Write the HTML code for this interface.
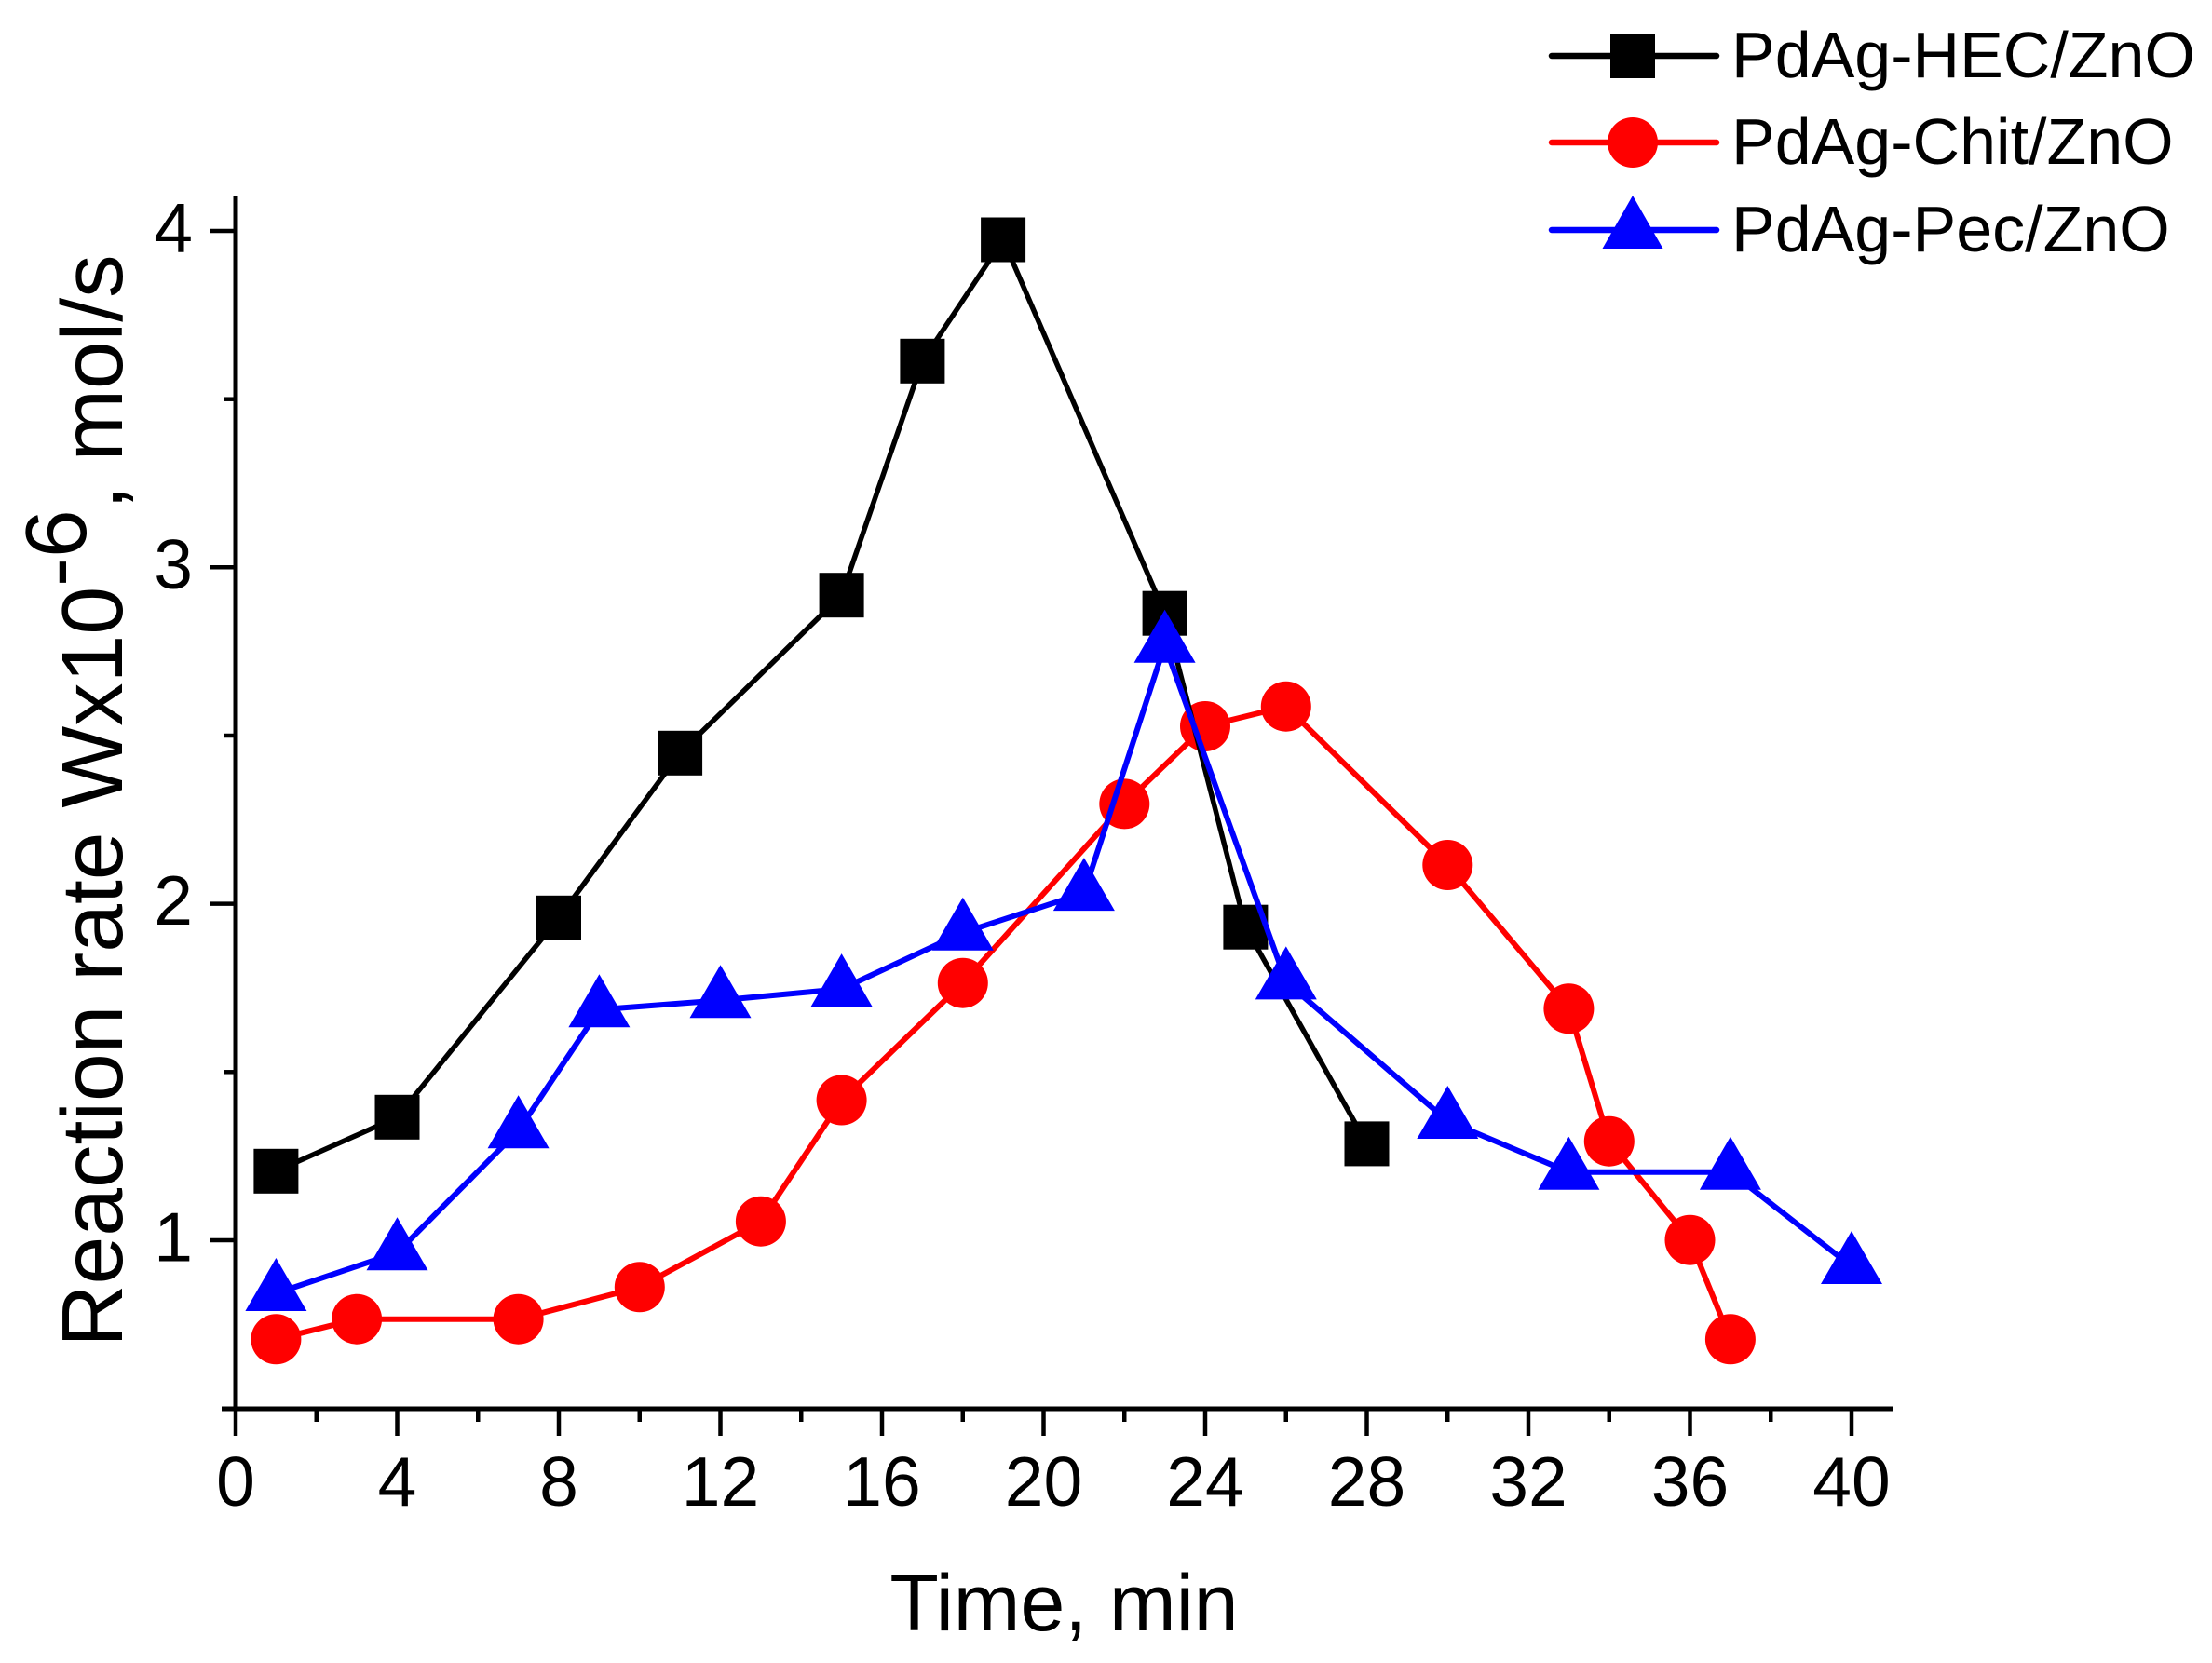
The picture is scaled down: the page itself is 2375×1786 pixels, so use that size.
<!DOCTYPE html>
<html>
<head>
<meta charset="utf-8">
<style>
  html,body{margin:0;padding:0;background:#fff;}
  svg{display:block;}
  text{font-family:"Liberation Sans", Arial, sans-serif; fill:#000;}
</style>
</head>
<body>
<svg width="2375" height="1786" viewBox="0 0 2375 1786" xmlns="http://www.w3.org/2000/svg">
  <rect x="0" y="0" width="2375" height="1786" fill="#fff"/>

  <!-- Axes -->
  <g stroke="#000" stroke-linecap="butt" fill="none">
    <line x1="253" y1="211" x2="253" y2="1515.5" stroke-width="5"/>
    <line x1="238" y1="1513" x2="2032" y2="1513" stroke-width="5"/>
    <!-- y major ticks -->
    <g stroke-width="4.5">
      <line x1="226" y1="248" x2="253" y2="248"/>
      <line x1="226" y1="609.3" x2="253" y2="609.3"/>
      <line x1="226" y1="970.6" x2="253" y2="970.6"/>
      <line x1="226" y1="1332" x2="253" y2="1332"/>
      <!-- y minor ticks -->
      <line x1="240" y1="428.7" x2="253" y2="428.7"/>
      <line x1="240" y1="790" x2="253" y2="790"/>
      <line x1="240" y1="1151.3" x2="253" y2="1151.3"/>
      <!-- x major ticks -->
      <line x1="253" y1="1513" x2="253" y2="1542"/>
      <line x1="426.5" y1="1513" x2="426.5" y2="1542"/>
      <line x1="600" y1="1513" x2="600" y2="1542"/>
      <line x1="773.5" y1="1513" x2="773.5" y2="1542"/>
      <line x1="947" y1="1513" x2="947" y2="1542"/>
      <line x1="1120.5" y1="1513" x2="1120.5" y2="1542"/>
      <line x1="1294" y1="1513" x2="1294" y2="1542"/>
      <line x1="1467.5" y1="1513" x2="1467.5" y2="1542"/>
      <line x1="1641" y1="1513" x2="1641" y2="1542"/>
      <line x1="1814.5" y1="1513" x2="1814.5" y2="1542"/>
      <line x1="1988" y1="1513" x2="1988" y2="1542"/>
      <!-- x minor ticks -->
      <line x1="339.75" y1="1513" x2="339.75" y2="1527"/>
      <line x1="513.25" y1="1513" x2="513.25" y2="1527"/>
      <line x1="686.75" y1="1513" x2="686.75" y2="1527"/>
      <line x1="860.25" y1="1513" x2="860.25" y2="1527"/>
      <line x1="1033.75" y1="1513" x2="1033.75" y2="1527"/>
      <line x1="1207.25" y1="1513" x2="1207.25" y2="1527"/>
      <line x1="1380.75" y1="1513" x2="1380.75" y2="1527"/>
      <line x1="1554.25" y1="1513" x2="1554.25" y2="1527"/>
      <line x1="1727.75" y1="1513" x2="1727.75" y2="1527"/>
      <line x1="1901.25" y1="1513" x2="1901.25" y2="1527"/>
    </g>
  </g>

  <!-- Tick labels -->
  <g font-size="75" text-anchor="end">
    <text x="207" y="270.5">4</text>
    <text x="207" y="632">3</text>
    <text x="207" y="993">2</text>
    <text x="207" y="1354.5">1</text>
  </g>
  <g font-size="75" text-anchor="middle">
    <text x="253" y="1617">0</text>
    <text x="426.5" y="1617">4</text>
    <text x="600" y="1617">8</text>
    <text x="773.5" y="1617">12</text>
    <text x="947" y="1617">16</text>
    <text x="1120.5" y="1617">20</text>
    <text x="1294" y="1617">24</text>
    <text x="1467.5" y="1617">28</text>
    <text x="1641" y="1617">32</text>
    <text x="1814.5" y="1617">36</text>
    <text x="1988" y="1617">40</text>
  </g>

  <!-- Axis titles -->
  <text x="1142.5" y="1751" font-size="86" text-anchor="middle">Time, min</text>
  <text transform="translate(131,860) rotate(-90)" font-size="93" text-anchor="middle">Reaction rate Wx10<tspan dy="-39">-6</tspan><tspan dy="39">, mol/s</tspan></text>

  <!-- Red series -->
  <polyline fill="none" stroke="#ff0000" stroke-width="6" stroke-linejoin="round"
    points="296.4,1438.3 383.1,1416.7 556.6,1416.7 686.8,1382.3 816.9,1311.7 903.6,1181.5 1033.8,1055.7 1207.3,863.4 1294,780 1380.8,758.7 1554.3,929 1684.4,1083.3 1727.8,1225.7 1814.5,1331.7 1857.9,1438.3"/>
  <g fill="#ff0000">
    <circle cx="296.4" cy="1438.3" r="27"/>
    <circle cx="383.1" cy="1416.7" r="27"/>
    <circle cx="556.6" cy="1416.7" r="27"/>
    <circle cx="686.8" cy="1382.3" r="27"/>
    <circle cx="816.9" cy="1311.7" r="27"/>
    <circle cx="903.6" cy="1181.5" r="27"/>
    <circle cx="1033.8" cy="1055.7" r="27"/>
    <circle cx="1207.3" cy="863.4" r="27"/>
    <circle cx="1294" cy="780" r="27"/>
    <circle cx="1380.8" cy="758.7" r="27"/>
    <circle cx="1554.3" cy="929" r="27"/>
    <circle cx="1684.4" cy="1083.3" r="27"/>
    <circle cx="1727.8" cy="1225.7" r="27"/>
    <circle cx="1814.5" cy="1331.7" r="27"/>
    <circle cx="1857.9" cy="1438.3" r="27"/>
  </g>

  <!-- Black series -->
  <polyline fill="none" stroke="#000" stroke-width="5.5" stroke-linejoin="round"
    points="296.4,1257.8 426.5,1199.8 600,985.8 730.1,808.8 903.6,639.2 990.4,387.8 1077.1,257.5 1250.6,658.7 1337.4,995.7 1467.5,1228.4"/>
  <g fill="#000">
    <rect x="272.4" y="1233.8" width="48" height="48"/>
    <rect x="402.5" y="1175.8" width="48" height="48"/>
    <rect x="576" y="961.8" width="48" height="48"/>
    <rect x="706.1" y="784.8" width="48" height="48"/>
    <rect x="879.6" y="615.2" width="48" height="48"/>
    <rect x="966.4" y="363.8" width="48" height="48"/>
    <rect x="1053.1" y="233.5" width="48" height="48"/>
    <rect x="1226.6" y="634.7" width="48" height="48"/>
    <rect x="1313.4" y="971.7" width="48" height="48"/>
    <rect x="1443.5" y="1204.4" width="48" height="48"/>
  </g>

  <!-- Blue series -->
  <polyline fill="none" stroke="#0000ff" stroke-width="6" stroke-linejoin="round"
    points="296.4,1389 426.5,1345.3 556.6,1214.3 643.4,1084.3 773.5,1074.3 903.6,1062.1 1033.8,1001.7 1163.9,959.1 1250.6,692.7 1380.8,1054.4 1554.3,1204 1684.4,1258.7 1857.9,1258.7 1988,1360"/>
  <g fill="#0000ff">
    <polygon points="296.4,1351 263.4,1408 329.4,1408"/>
    <polygon points="426.5,1307.3 393.5,1364.3 459.5,1364.3"/>
    <polygon points="556.6,1176.3 523.6,1233.3 589.6,1233.3"/>
    <polygon points="643.4,1046.3 610.4,1103.3 676.4,1103.3"/>
    <polygon points="773.5,1036.3 740.5,1093.3 806.5,1093.3"/>
    <polygon points="903.6,1024.1 870.6,1081.1 936.6,1081.1"/>
    <polygon points="1033.8,963.7 1000.8,1020.7 1066.8,1020.7"/>
    <polygon points="1163.9,921.1 1130.9,978.1 1196.9,978.1"/>
    <polygon points="1250.6,654.7 1217.6,711.7 1283.6,711.7"/>
    <polygon points="1380.8,1016.4 1347.8,1073.4 1413.8,1073.4"/>
    <polygon points="1554.3,1166 1521.3,1223 1587.3,1223"/>
    <polygon points="1684.4,1220.7 1651.4,1277.7 1717.4,1277.7"/>
    <polygon points="1857.9,1220.7 1824.9,1277.7 1890.9,1277.7"/>
    <polygon points="1988,1322 1955,1379 2021,1379"/>
  </g>

  <!-- Legend -->
  <g stroke-linecap="round">
    <line x1="1666" y1="60" x2="1843" y2="60" stroke="#000" stroke-width="6.5"/>
    <line x1="1666" y1="153" x2="1843" y2="153" stroke="#ff0000" stroke-width="6.5"/>
    <line x1="1666" y1="247" x2="1843" y2="247" stroke="#0000ff" stroke-width="6.5"/>
  </g>
  <rect x="1729" y="36" width="48" height="48" fill="#000"/>
  <circle cx="1753" cy="153" r="27" fill="#ff0000"/>
  <polygon points="1753,210 1720.5,267 1785.5,267" fill="#0000ff"/>
  <g font-size="70">
    <text x="1859" y="83">PdAg-HEC/ZnO</text>
    <text x="1859" y="176">PdAg-Chit/ZnO</text>
    <text x="1859" y="270">PdAg-Pec/ZnO</text>
  </g>
</svg>
</body>
</html>
